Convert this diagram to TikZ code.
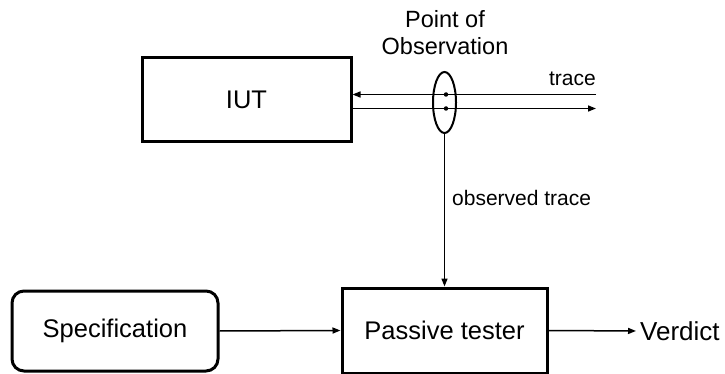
\documentclass[tikz,border=0pt]{standalone}
\usepackage{fontspec}
\setmainfont{Liberation Sans}
\usetikzlibrary{shapes.geometric,arrows.meta}
\begin{document}
\begin{tikzpicture}[x=1pt,y=-1pt,
  bigbox/.style={draw,line width=3pt,inner sep=0pt,font=\fontsize{25.5}{30}\selectfont},
  conn/.style={line width=1.5pt,-{Triangle[length=8pt,width=6pt]}},
  lbl/.style={inner sep=0pt,font=\fontsize{21}{25}\selectfont},
  dotm/.style={circle,fill,inner sep=0pt,minimum size=4.5pt}]
\useasboundingbox (0,0) rectangle (725,374);
\node[bigbox,minimum width=209pt,minimum height=84pt] (iut) at (246.5,100) {IUT};
\node[bigbox,rounded corners=12pt,minimum width=206pt,minimum height=80pt] (spec) at (115,331) {Specification};
\node[bigbox,minimum width=205pt,minimum height=85pt] (tester) at (444.5,330.5) {Passive tester};
\node[draw,ellipse,line width=2pt,minimum width=23pt,minimum height=61pt,inner sep=0pt] (poo) at (444.5,102.5) {};
\node[dotm] (d1) at (446,94.5) {};
\node[dotm] (d2) at (446,108.5) {};
\coordinate (tin) at (596,94.5);
\coordinate (tout) at (596,108.5);
\node[anchor=west,font=\fontsize{26}{30}\selectfont,inner sep=0pt] (verdict) at (640,331) {Verdict};
\draw[conn] (tin) -- (iut.east |- tin);
\draw[conn] (iut.east |- tout) -- (tout);
\draw[conn] (poo.south) -- (tester.north);
\draw[conn] (spec.east) -- (tester.west);
\draw[conn,shorten >=4pt] (tester.east) -- (verdict.west);
\node[lbl,anchor=south east] (tr) at (596,86) {trace};
\node[lbl,anchor=west] (ot) at (452,198) {observed trace};
\node[align=center,inner sep=0pt,font=\fontsize{23.5}{27}\selectfont] (pt) at (445,33) {Point of\\Observation};
\end{tikzpicture}
\end{document}
